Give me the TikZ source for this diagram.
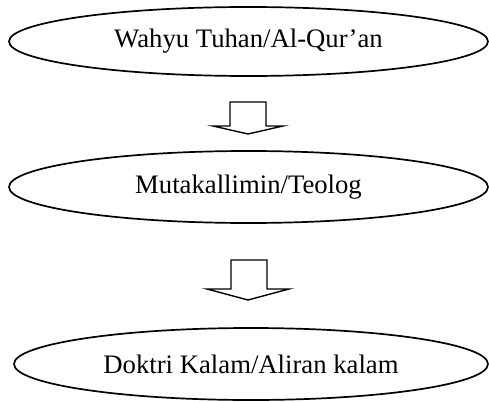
\documentclass[tikz,border=0pt]{standalone}
\usepackage{fontspec}
\setmainfont{Liberation Serif}
\usetikzlibrary{shapes.geometric}

\tikzset{
  stage/.style={ellipse, draw=black, line width=1.7pt, inner sep=0pt,
    font=\fontsize{26.7}{32}\selectfont},
  blockarrow/.style={draw=black, line width=1.4pt, line join=miter, fill=white}
}

\begin{document}
\begin{tikzpicture}[x=1pt, y=-1pt]
  \useasboundingbox (0,0) rectangle (489,401);

  % the three stages
  \node[stage, minimum width=479pt, minimum height=69pt] (wahyu) at (248.5,41.5) {Wahyu Tuhan/Al-Qur’an};
  \node[stage, minimum width=479pt, minimum height=72pt] (teolog) at (248.5,187) {Mutakallimin/Teolog};
  \node[stage, minimum width=474pt, minimum height=72pt] (kalam) at (251,364) {Doktri Kalam/Aliran kalam};

  % hollow block arrows between the stages (anchored at the top middle of each shaft)
  \coordinate (a1) at (248.5,102);
  \coordinate (a2) at (249,260);

  \draw[blockarrow] (a1) ++(-18.5,0) -- ++(0,24) -- ++(-17,0) -- ++(35,8)
    -- ++(35,-8) -- ++(-17,0) -- ++(0,-24) -- cycle;
  \draw[blockarrow] (a2) ++(-18,0) -- ++(0,29) -- ++(-24,0) -- ++(41,11)
    -- ++(41,-11) -- ++(-22,0) -- ++(0,-29) -- cycle;
\end{tikzpicture}
\end{document}
